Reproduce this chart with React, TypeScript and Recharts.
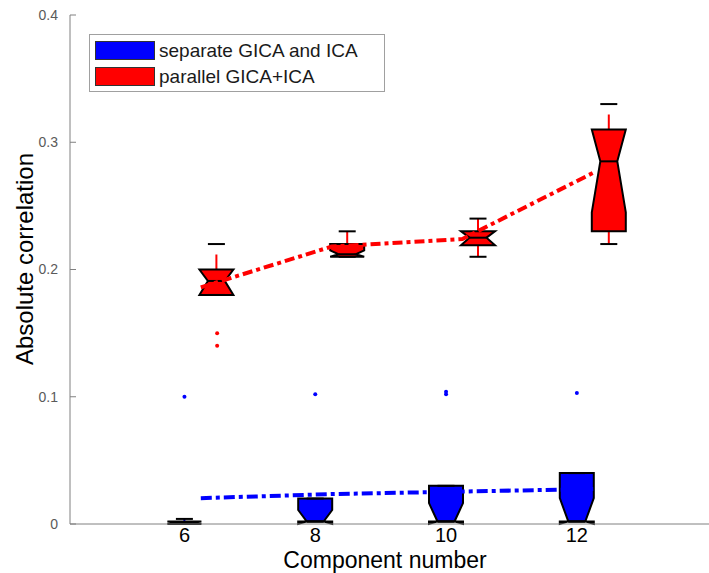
import React from 'react';
import { ComposedChart, Bar, Line, Scatter, XAxis, YAxis, Legend, Label } from 'recharts';

const FONT = '"Liberation Sans", Arial, Helvetica, sans-serif';

// categories (component numbers)
const components = [6, 8, 10, 12];
const xTickLabels = ['6', '8', '10', '12'];
const yTicks = [0, 0.1, 0.2, 0.3, 0.4];

// separate GICA and ICA (blue) box statistics
const blueMin = [0, 0.002, 0.002, 0.002];
const blueQ1 = [0, 0.002, 0.002, 0.002];
const blueMed = [0.001, 0.002, 0.002, 0.002];
const blueQ3 = [0.002, 0.02, 0.03, 0.04];
const blueMax = [0.004, 0.02, 0.03, 0.04];
const blueNotchLo = [0, 0, 0, 0];
const blueNotchHi = [0.002, 0.011, 0.0164, 0.0203];
const blueMean = [0.0203, 0.0235, 0.0255, 0.0275];
const blueOutlierX = [5.75, 7.75, 9.75, 9.75, 11.75];
const blueOutlierY = [0.1, 0.102, 0.102, 0.104, 0.103];

// parallel GICA+ICA (red) box statistics
const redMin = [0.18, 0.21, 0.21, 0.22];
const redQ1 = [0.18, 0.21, 0.219, 0.23];
const redMed = [0.191, 0.212, 0.225, 0.285];
const redQ3 = [0.2, 0.22, 0.23, 0.31];
const redMax = [0.22, 0.23, 0.24, 0.33];
const redNotchLo = [0.18, 0.21, 0.219, 0.245];
const redNotchHi = [0.2, 0.215, 0.23, 0.31];
const redMean = [0.186, 0.218, 0.224, 0.276];
const redOutlierX = [6.25, 6.25];
const redOutlierY = [0.15, 0.14];

const seriesNames = ['separate GICA and ICA', 'parallel GICA+ICA'];

const BLUE = '#0000ff';
const RED = '#ff0000';

const stats = (i: number, mn: number[], q1: number[], md: number[], q3: number[], mx: number[], nl: number[], nh: number[]) => ({
  min: mn[i], q1: q1[i], med: md[i], q3: q3[i], max: mx[i], nlo: nl[i], nhi: nh[i],
});

const rows = components.map((c, i) => {
  const blue = stats(i, blueMin, blueQ1, blueMed, blueQ3, blueMax, blueNotchLo, blueNotchHi);
  const red = stats(i, redMin, redQ1, redMed, redQ3, redMax, redNotchLo, redNotchHi);
  return {
    x: c,
    cat: String(c),
    blue,
    red,
    blueRange: [Math.min(blue.min, blue.q1, blue.nlo), Math.max(blue.max, blue.q3, blue.nhi)],
    redRange: [Math.min(red.min, red.q1, red.nlo), Math.max(red.max, red.q3, red.nhi)],
    blueMean: blueMean[i],
    redMean: redMean[i],
  };
});

const blueOutliers = blueOutlierX.map((x, i) => ({ x, y: blueOutlierY[i] }));
const redOutliers = redOutlierX.map((x, i) => ({ x, y: redOutlierY[i] }));

const NotchedBox = (props: any) => {
  const { x, y, width, height, payload, kind, color } = props;
  if (!payload) return null;
  const s = payload[kind];
  const [lo, hi] = payload[kind + 'Range'];
  const top = Math.min(y, y + height);
  const h = Math.abs(height);
  const py = (v: number) => top + ((hi - v) / (hi - lo)) * h;
  const L = x;
  const R = x + width;
  const cx = x + width / 2;
  const q = width / 4;
  const pts = [
    [L, py(s.q1)], [L, py(s.nlo)], [cx - q, py(s.med)], [L, py(s.nhi)], [L, py(s.q3)],
    [R, py(s.q3)], [R, py(s.nhi)], [cx + q, py(s.med)], [R, py(s.nlo)], [R, py(s.q1)],
  ];
  const poly = pts.map((p) => `${p[0]},${p[1]}`).join(' ');
  return (
    <g>
      {s.max > s.q3 && (
        <line x1={cx} y1={py(s.q3)} x2={cx} y2={py(s.max)} stroke={color} strokeWidth={2} strokeDasharray="15 10" />
      )}
      {s.min < s.q1 && (
        <line x1={cx} y1={py(s.q1)} x2={cx} y2={py(s.min)} stroke={color} strokeWidth={2} strokeDasharray="15 10" />
      )}
      <polygon points={poly} fill={color} stroke="#000" strokeWidth={2} strokeLinejoin="miter" />
      <line x1={cx - q} y1={py(s.med)} x2={cx + q} y2={py(s.med)} stroke="#000" strokeWidth={2} />
      <line x1={cx - q} y1={py(s.max)} x2={cx + q} y2={py(s.max)} stroke="#000" strokeWidth={2} />
      <line x1={cx - q} y1={py(s.min)} x2={cx + q} y2={py(s.min)} stroke="#000" strokeWidth={2} />
    </g>
  );
};

const Dot = (color: string) => (p: any) => <circle cx={p.cx} cy={p.cy} r={2} fill={color} />;

const renderLegend = (props: any) => {
  const items = (props.payload || [])
    .filter((e: any) => e.type !== 'none' && seriesNames.includes(e.value))
    .sort((a: any, b: any) => seriesNames.indexOf(a.value) - seriesNames.indexOf(b.value));
  return (
    <div
      style={{
        border: '1px solid #a0a0a0',
        background: '#fff',
        width: 296,
        height: 58,
        boxSizing: 'border-box',
        padding: '6px 0 0 5px',
        fontFamily: FONT,
      }}
    >
      {items.map((e: any) => (
        <div key={e.value} style={{ display: 'flex', alignItems: 'flex-start', height: 26 }}>
          <span
            style={{
              display: 'inline-block',
              width: 60,
              height: 19,
              background: e.color,
              border: '1px solid #333',
              boxSizing: 'border-box',
            }}
          />
          <span style={{ marginLeft: 4, fontSize: 19, lineHeight: '19px', color: '#1a1a1a' }}>{e.value}</span>
        </div>
      ))}
    </div>
  );
};

const YLabel = () => (
  <text
    transform="translate(33,259) rotate(-90)"
    textAnchor="middle"
    fontSize={24}
    fontFamily={FONT}
    fill="#000"
  >
    Absolute correlation
  </text>
);

const XLabel = () => (
  <text x={385} y={568} textAnchor="middle" fontSize={23} fontFamily={FONT} fill="#000">
    Component number
  </text>
);

export default function App() {
  return (
    <div style={{ position: 'absolute', left: 0, top: 0, width: 709, height: 573, overflow: 'hidden', background: '#fff' }}>
      <ComposedChart
        width={724}
        height={573}
        data={rows}
        margin={{ top: 15, right: 0, bottom: 0, left: 0 }}
        barGap={-2}
        barCategoryGap={0}
        style={{ fontFamily: FONT }}
      >
        <XAxis
          xAxisId="bottom"
          dataKey="x"
          type="number"
          domain={[4, 14]}
          ticks={components.map((c) => c - 0.25)}
          tickFormatter={(v: number) => xTickLabels[components.indexOf(Math.round((v + 0.25) * 100) / 100)] ?? ''}
          allowDataOverflow
          height={49}
          stroke="#808080"
          tickLine={false}
          tickSize={0}
          tickMargin={4}
          tick={{ fill: '#000', fontSize: 20, fontFamily: FONT }}
        >
          <Label content={XLabel} />
        </XAxis>
        <XAxis
          xAxisId="cat"
          dataKey="cat"
          type="category"
          hide
          padding={{ left: 65.4, right: 65.4 }}
        />
        <XAxis
          xAxisId="top"
          orientation="top"
          dataKey="x"
          type="number"
          domain={[4, 14]}
          ticks={components}
          height={0}
          stroke="#808080"
          tick={false}
          tickSize={-5}
        />
        <YAxis
          type="number"
          domain={[0, 0.4]}
          ticks={yTicks}
          width={70}
          stroke="#808080"
          tickSize={-6}
          tickMargin={18}
          tick={{ fill: '#5a5a5a', fontSize: 14, fontFamily: FONT }}
        >
          <Label content={YLabel} />
        </YAxis>
        <Legend
          layout="vertical"
          align="center"
          verticalAlign="middle"
          content={renderLegend}
          wrapperStyle={{ left: 89, top: 34, width: 296, height: 58 }}
        />
        <Bar
          xAxisId="cat"
          dataKey="blueRange"
          name={seriesNames[0]}
          fill={BLUE}
          barSize={34}
          isAnimationActive={false}
          shape={(p: any) => <NotchedBox {...p} kind="blue" color={BLUE} />}
        />
        <Bar
          xAxisId="cat"
          dataKey="redRange"
          name={seriesNames[1]}
          fill={RED}
          barSize={34}
          isAnimationActive={false}
          shape={(p: any) => <NotchedBox {...p} kind="red" color={RED} />}
        />
        <Line
          xAxisId="bottom"
          dataKey="blueMean"
          stroke={BLUE}
          strokeWidth={4}
          strokeDasharray="11 4 4 4"
          dot={false}
          activeDot={false}
          legendType="none"
          isAnimationActive={false}
        />
        <Line
          xAxisId="bottom"
          dataKey="redMean"
          stroke={RED}
          strokeWidth={4}
          strokeDasharray="10 4 4 4"
          dot={false}
          activeDot={false}
          legendType="none"
          isAnimationActive={false}
        />
        <Scatter
          xAxisId="bottom"
          data={blueOutliers}
          dataKey="y"
          fill={BLUE}
          shape={Dot(BLUE)}
          legendType="none"
          isAnimationActive={false}
        />
        <Scatter
          xAxisId="bottom"
          data={redOutliers}
          dataKey="y"
          fill={RED}
          shape={Dot(RED)}
          legendType="none"
          isAnimationActive={false}
        />
      </ComposedChart>
    </div>
  );
}
